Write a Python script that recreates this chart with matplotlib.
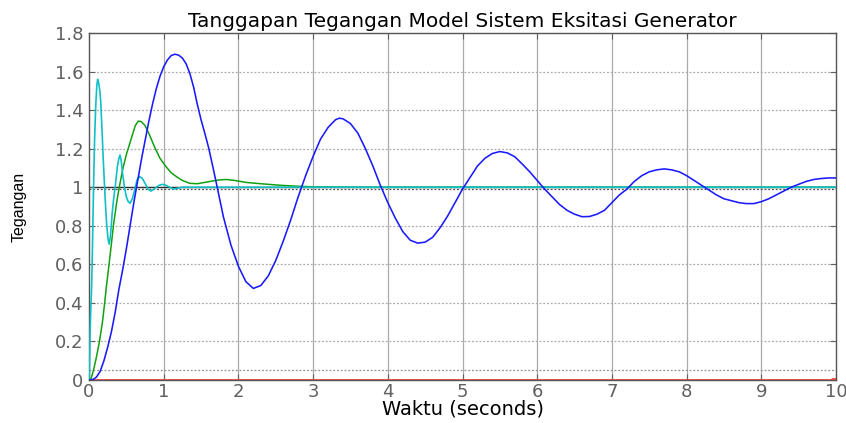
import matplotlib
matplotlib.use('Agg')
import matplotlib.pyplot as plt

# Blue response (slow, lightly damped)
t_blue = [0, 0.05, 0.1, 0.15, 0.2, 0.25, 0.3, 0.35, 0.4, 0.45, 0.5, 0.55, 0.6, 0.65,
          0.7, 0.75, 0.8, 0.85, 0.9, 0.95, 1.0, 1.05, 1.1, 1.15, 1.2, 1.25, 1.3, 1.35,
          1.4, 1.45, 1.5, 1.55, 1.6, 1.65, 1.7, 1.8, 1.9, 2.0, 2.1, 2.2, 2.3, 2.4, 2.5,
          2.6, 2.7, 2.8, 2.9, 3.0, 3.1, 3.2, 3.3, 3.35, 3.4, 3.5, 3.6, 3.7, 3.8, 3.9,
          4.0, 4.1, 4.2, 4.3, 4.4, 4.5, 4.6, 4.7, 4.8, 4.9, 5.0, 5.1, 5.2, 5.3, 5.4,
          5.5, 5.6, 5.7, 5.8, 5.9, 6.0, 6.1, 6.2, 6.3, 6.4, 6.5, 6.6, 6.7, 6.8, 6.9,
          7.0, 7.1, 7.2, 7.3, 7.4, 7.5, 7.6, 7.7, 7.8, 7.9, 8.0, 8.1, 8.2, 8.3, 8.4,
          8.5, 8.6, 8.7, 8.8, 8.9, 9.0, 9.1, 9.2, 9.3, 9.4, 9.5, 9.6, 9.7, 9.8, 9.9, 10.0]
y_blue = [0, 0.002, 0.015, 0.045, 0.1, 0.17, 0.25, 0.35, 0.47, 0.57, 0.68, 0.8, 0.92, 1.03,
          1.14, 1.24, 1.34, 1.43, 1.51, 1.575, 1.625, 1.66, 1.683, 1.69, 1.685, 1.67, 1.64, 1.59,
          1.52, 1.43, 1.35, 1.28, 1.207, 1.12, 1.03, 0.845, 0.7, 0.59, 0.51, 0.475, 0.49, 0.54, 0.62,
          0.72, 0.83, 0.95, 1.06, 1.16, 1.25, 1.31, 1.35, 1.358, 1.355, 1.33, 1.28, 1.2, 1.11, 1.01,
          0.92, 0.84, 0.77, 0.725, 0.71, 0.715, 0.74, 0.79, 0.85, 0.92, 0.99, 1.05, 1.11, 1.15, 1.175,
          1.185, 1.178, 1.158, 1.12, 1.08, 1.035, 0.99, 0.95, 0.91, 0.88, 0.86, 0.847, 0.848, 0.86, 0.88,
          0.92, 0.96, 0.99, 1.03, 1.06, 1.08, 1.09, 1.095, 1.09, 1.08, 1.06, 1.035, 1.01, 0.985, 0.96,
          0.94, 0.93, 0.92, 0.915, 0.915, 0.925, 0.94, 0.96, 0.98, 1.0, 1.015, 1.03, 1.04, 1.045, 1.048, 1.048]

# Green response
t_green = [0, 0.03, 0.06, 0.1, 0.14, 0.18, 0.21, 0.23, 0.27, 0.33, 0.37, 0.405, 0.45, 0.5,
           0.53, 0.58, 0.62, 0.66, 0.7, 0.75, 0.8, 0.88, 0.95, 1.03, 1.1, 1.17, 1.25, 1.35,
           1.45, 1.55, 1.65, 1.75, 1.84, 1.95, 2.1, 2.3, 2.56, 2.8, 3.0, 3.5, 10.0]
y_green = [0, 0.01, 0.05, 0.12, 0.2, 0.3, 0.4, 0.475, 0.605, 0.81, 0.92, 1.0, 1.09, 1.17,
           1.207, 1.27, 1.32, 1.343, 1.34, 1.32, 1.28, 1.207, 1.15, 1.107, 1.075, 1.055, 1.035, 1.02,
           1.018, 1.025, 1.032, 1.038, 1.04, 1.035, 1.025, 1.018, 1.01, 1.005, 1.002, 1.0, 1.0]

# Cyan response (fast)
t_cyan = [0, 0.005, 0.01, 0.015, 0.025, 0.035, 0.045, 0.055, 0.065, 0.075, 0.09, 0.105, 0.116,
          0.13, 0.145, 0.156, 0.168, 0.18, 0.19, 0.2, 0.215, 0.236, 0.255, 0.27, 0.285, 0.3,
          0.31, 0.33, 0.35, 0.38, 0.4, 0.415, 0.43, 0.45, 0.475, 0.5, 0.525, 0.55, 0.58, 0.61,
          0.645, 0.68, 0.715, 0.75, 0.79, 0.83, 0.87, 0.9, 0.94, 0.985, 1.03, 1.08, 1.13, 1.19,
          1.25, 2.0, 10.0]
y_cyan = [0, 0.02, 0.12, 0.25, 0.38, 0.48, 0.66, 0.88, 1.08, 1.25, 1.42, 1.53, 1.56,
          1.54, 1.5, 1.45, 1.35, 1.245, 1.15, 1.07, 0.95, 0.81, 0.73, 0.705, 0.74, 0.81,
          0.865, 0.94, 1.0, 1.107, 1.15, 1.167, 1.14, 1.07, 1.0, 0.95, 0.925, 0.917, 0.94, 0.985,
          1.04, 1.055, 1.045, 1.02, 0.99, 0.98, 0.99, 1.0, 1.01, 1.015, 1.01, 1.0, 0.99, 0.995,
          1.0, 1.0, 1.0]

# Red signal (stays at zero)
t_red = [0, 9.95, 9.95, 10.0]
y_red = [0, 0, 0.005, 0.005]

# reference lines
ref_levels = [1.0, 0.99, 0.05]

x_ticks = list(range(0, 11))
y_ticks = [0, 0.2, 0.4, 0.6, 0.8, 1.0, 1.2, 1.4, 1.6, 1.8]
y_ticklabels = ['0', '0.2', '0.4', '0.6', '0.8', '1', '1.2', '1.4', '1.6', '1.8']

plt.rcParams['font.family'] = ['DejaVu Sans']

fig = plt.figure(figsize=(8.46, 4.23), dpi=100)
ax = fig.add_axes([0.1052, 0.1017, 0.883, 0.8203])

# grid: vertical solid, horizontal dotted
for x in x_ticks[1:-1]:
    ax.axvline(x, color='#aaaaaa', lw=0.9, zorder=0)
for y in y_ticks[1:-1]:
    ax.axhline(y, color='#aaaaaa', lw=0.9, ls=(0, (1.5, 1.5)), zorder=0)

ax.axhline(ref_levels[0], color='#303030', lw=1.0, zorder=1)
ax.axhline(ref_levels[1], color='#505050', lw=0.9, ls=(0, (1.5, 1.5)), zorder=1)
ax.axhline(ref_levels[2], color='#909090', lw=0.9, ls=(0, (1.5, 1.5)), zorder=1)

ax.plot(t_red, y_red, color='#ff4040', lw=2.0, zorder=2)
ax.plot(t_green, y_green, color='#10a010', lw=1.1, zorder=3)
ax.plot(t_cyan, y_cyan, color='#10c0c8', lw=1.2, zorder=4)
ax.plot(t_blue, y_blue, color='#1a1aff', lw=1.15, zorder=5)

ax.set_xlim(0, 10)
ax.set_ylim(0, 1.8)
ax.set_xticks(x_ticks)
ax.set_yticks(y_ticks)
ax.set_yticklabels(y_ticklabels)
ax.tick_params(direction='in', length=4, width=0.8, color='#606060',
               labelcolor='#606060', labelsize=13, top=True, right=True, pad=4)
ax.tick_params(axis='x', pad=2)

for s in ax.spines.values():
    s.set_color('#555555')
    s.set_linewidth(1.0)

ax.set_title('Tanggapan Tegangan Model Sistem Eksitasi Generator', fontsize=14.5, pad=4)
ax.set_xlabel('Waktu (seconds)', fontsize=14, labelpad=-1)
ax.set_ylabel('Tegangan', fontsize=11.5,
              family=['Liberation Sans Narrow', 'Liberation Sans', 'DejaVu Sans'])
ax.yaxis.set_label_coords(-0.084, 0.5)

fig.savefig('out.png', dpi=100)
